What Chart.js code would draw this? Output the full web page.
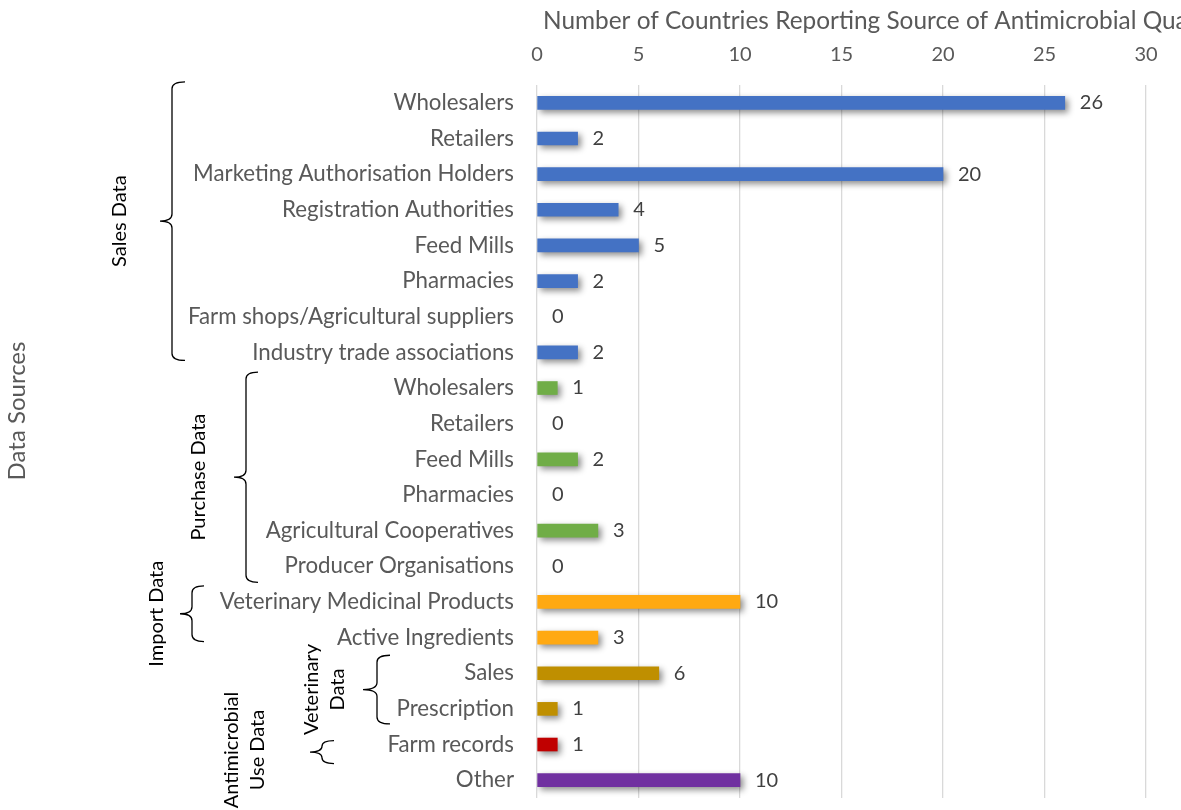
<!DOCTYPE html>
<html>
<head>
<meta charset="utf-8">
<script src="https://cdn.jsdelivr.net/npm/chart.js@4/dist/chart.umd.min.js"></script>
<style>
  html, body { margin: 0; padding: 0; background: #ffffff; }
  #wrap { width: 1181px; height: 810px; position: relative; }
</style>
</head>
<body>
<div id="wrap"><canvas id="c" width="1181" height="810"></canvas></div>
<script>
// ---------------- DATA ----------------
const categories = [
  'Wholesalers', 'Retailers', 'Marketing Authorisation Holders', 'Registration Authorities',
  'Feed Mills', 'Pharmacies', 'Farm shops/Agricultural suppliers', 'Industry trade associations',
  'Wholesalers', 'Retailers', 'Feed Mills', 'Pharmacies', 'Agricultural Cooperatives', 'Producer Organisations',
  'Veterinary Medicinal Products', 'Active Ingredients',
  'Sales', 'Prescription',
  'Farm records',
  'Other'
];
const values = [26, 2, 20, 4, 5, 2, 0, 2, 1, 0, 2, 0, 3, 0, 10, 3, 6, 1, 1, 10];
// group of each category (index into groupColors)
const categoryGroup = [0,0,0,0,0,0,0,0, 1,1,1,1,1,1, 2,2, 3,3, 4, 5];
const groupColors = ['#4472C4', '#70AD47', '#FFA912', '#BF8F00', '#C00000', '#7030A0'];
const xTicks = [0, 5, 10, 15, 20, 25, 30];
const xAxisTitle = 'Number of Countries Reporting Source of Antimicrobial Quantities';
const yAxisTitle = 'Data Sources';
// brace groups: label lines, first and last category index
const braceLabels = [['Sales Data'], ['Purchase Data'], ['Import Data'], ['Veterinary', 'Data'], [], ['Antimicrobial', 'Use Data']];
const braceFrom = [0, 8, 14, 16, 18];
const braceTo   = [7, 13, 15, 17, 18];

// ---------------- STYLE / LAYOUT ----------------
const LABEL_GREY = '#595959';
const VALUE_GREY = '#404040';
const GROUP_FONT = '20px Lato';
const braceStyle = [
  // lineX, tipX, armX, topOffset, bottomOffset, label centres
  { lineX: 172, tipX: 160, armX: 185, top: -21, bottom: 8,  labelX: [120] },
  { lineX: 246, tipX: 234, armX: 258, top: -16, bottom: 16, labelX: [199] },
  { lineX: 192, tipX: 180, armX: 204, top: -16, bottom: 4,  labelX: [157] },
  { lineX: 377, tipX: 363, armX: 390, top: -18, bottom: 15, labelX: [312, 338] },
  { lineX: 322, tipX: 310, armX: 334, top: -4,  bottom: 19, labelX: [] }
];
const amuLabel = { x: [232, 258], y: 750 };

function drawBrace(ctx, lineX, tipX, armX, y1, y2) {
  const mid = (y1 + y2) / 2;
  const r = Math.min(7, (y2 - y1) / 4);
  ctx.beginPath();
  ctx.moveTo(armX, y1);
  ctx.quadraticCurveTo(lineX, y1, lineX, y1 + r);
  ctx.lineTo(lineX, mid - r);
  ctx.quadraticCurveTo(lineX, mid, tipX, mid);
  ctx.quadraticCurveTo(lineX, mid, lineX, mid + r);
  ctx.lineTo(lineX, y2 - r);
  ctx.quadraticCurveTo(lineX, y2, armX, y2);
  ctx.stroke();
}

function drawRotated(ctx, lines, xs, y, font, color) {
  ctx.save();
  ctx.font = font;
  ctx.fillStyle = color;
  ctx.textAlign = 'center';
  ctx.textBaseline = 'middle';
  lines.forEach((t, i) => {
    ctx.save();
    ctx.translate(xs[i], y);
    ctx.rotate(-Math.PI / 2);
    ctx.fillText(t, 0, 0);
    ctx.restore();
  });
  ctx.restore();
}

const shadowPlugin = {
  id: 'barShadow',
  beforeDatasetDraw(chart) {
    const ctx = chart.ctx;
    ctx.save();
    ctx.shadowColor = 'rgba(0,0,0,0.45)';
    ctx.shadowBlur = 6;
    ctx.shadowOffsetX = 3;
    ctx.shadowOffsetY = 3;
  },
  afterDatasetDraw(chart) {
    chart.ctx.restore();
  }
};

const valueLabelPlugin = {
  id: 'valueLabels',
  afterDatasetsDraw(chart) {
    const ctx = chart.ctx;
    const meta = chart.getDatasetMeta(0);
    ctx.save();
    ctx.font = '20px Lato';
    ctx.fillStyle = VALUE_GREY;
    ctx.textAlign = 'left';
    ctx.textBaseline = 'middle';
    meta.data.forEach((bar, i) => {
      ctx.fillText(String(values[i]), bar.x + 15, bar.y);
    });
    ctx.restore();
  }
};

const bracePlugin = {
  id: 'braces',
  afterDraw(chart) {
    const ctx = chart.ctx;
    const ys = chart.scales.y;
    const xs = chart.scales.x;
    ctx.save();
    // x axis title (overflows the canvas on the right, as in the original)
    ctx.font = '24.4px Lato';
    ctx.fillStyle = LABEL_GREY;
    ctx.textAlign = 'left';
    ctx.textBaseline = 'middle';
    ctx.fillText(xAxisTitle, xs.left + 6, 21);

    ctx.strokeStyle = '#000000';
    ctx.lineWidth = 1.3;
    braceStyle.forEach((s, g) => {
      const y1 = ys.getPixelForValue(braceFrom[g]) + s.top;
      const y2 = ys.getPixelForValue(braceTo[g]) + s.bottom;
      drawBrace(ctx, s.lineX, s.tipX, s.armX, y1, y2);
      if (braceLabels[g].length) {
        drawRotated(ctx, braceLabels[g], s.labelX, (y1 + y2) / 2, GROUP_FONT, '#000000');
      }
    });
    drawRotated(ctx, braceLabels[5], amuLabel.x, amuLabel.y, GROUP_FONT, '#000000');
    // overall y axis title
    drawRotated(ctx, [yAxisTitle], [17], 411, '24px Lato', LABEL_GREY);
    ctx.restore();
  }
};

function build() {
  Chart.defaults.font.family = 'Lato';
  new Chart(document.getElementById('c'), {
    type: 'bar',
    data: {
      labels: categories,
      datasets: [{
        data: values,
        backgroundColor: categoryGroup.map((g, i) => values[i] === 0 ? 'rgba(0,0,0,0)' : groupColors[g]),
        barThickness: 13,
        borderWidth: 0
      }]
    },
    options: {
      indexAxis: 'y',
      responsive: false,
      animation: false,
      layout: { padding: { left: 0, right: 35, top: 0, bottom: 12 } },
      plugins: { legend: { display: false }, tooltip: { enabled: false } },
      scales: {
        x: {
          position: 'top',
          min: xTicks[0],
          max: xTicks[xTicks.length - 1],
          afterBuildTicks(scale) { scale.ticks = xTicks.map(v => ({ value: v })); },
          afterFit(scale) { scale.height = 85; scale.paddingLeft = 0; scale.paddingRight = 0; },
          ticks: { font: { size: 20 }, color: LABEL_GREY, padding: 18 },
          grid: { color: '#D9D9D9', lineWidth: 1.3, drawTicks: false },
          border: { display: false },
          title: { display: false }
        },
        y: {
          afterFit(scale) { scale.width = 537; scale.paddingTop = 0; scale.paddingBottom = 0; },
          ticks: { font: { size: 22.3 }, color: LABEL_GREY, padding: 23, autoSkip: false },
          grid: { display: false, drawTicks: false },
          border: { display: false }
        }
      }
    },
    plugins: [shadowPlugin, valueLabelPlugin, bracePlugin]
  });
}

if (document.fonts && document.fonts.load) {
  Promise.all([document.fonts.load('20px Lato'), document.fonts.load('24px Lato')]).then(build, build);
} else {
  build();
}
</script>
</body>
</html>
